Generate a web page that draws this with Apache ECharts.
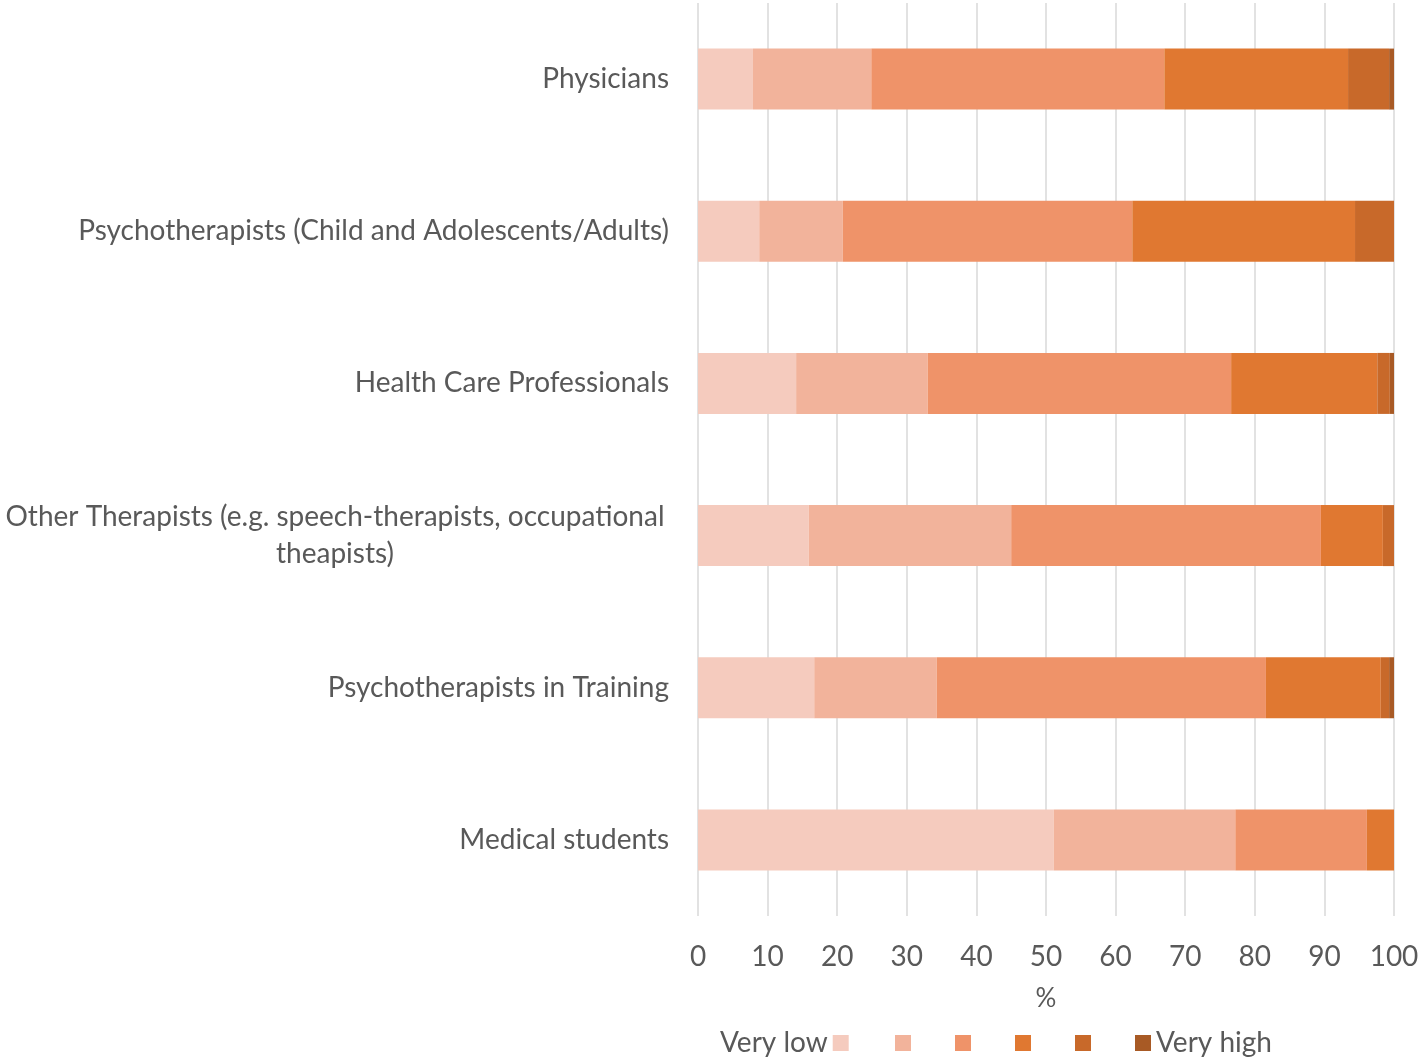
<!DOCTYPE html>
<html>
<head>
<meta charset="utf-8">
<script src="https://cdn.jsdelivr.net/npm/echarts@6/dist/echarts.min.js"></script>
<style>
  html, body { margin: 0; padding: 0; background: #fff; }
  #chart { width: 1423px; height: 1059px; }
</style>
</head>
<body>
<div id="chart"></div>
<script>
// categories listed bottom to top (category axis starts at the bottom)
const categories = [
  'Medical students',
  'Psychotherapists in Training',
  'Other Therapists (e.g. speech-therapists, occupational\ntheapists)',
  'Health Care Professionals',
  'Psychotherapists (Child and Adolescents/Adults)',
  'Physicians',
];

const levelNames = ['Very low', '2', '3', '4', '5', 'Very high'];
const levelColors = ['#F5CBBE', '#F2B39B', '#EF9369', '#E07831', '#C8692A', '#A85A25'];

// share (%) per level, same order as categories
const veryLow = [51.1, 16.7, 15.9, 14.1, 8.8, 7.9];
const level2 = [26.1, 17.6, 29.1, 18.9, 12.0, 17.0];
const level3 = [18.9, 47.3, 44.5, 43.6, 41.6, 42.1];
const level4 = [3.9, 16.5, 8.9, 21.0, 32.0, 26.4];
const level5 = [0, 1.2, 1.6, 1.8, 5.6, 5.9];
const veryHigh = [0, 0.7, 0, 0.6, 0, 0.7];

const xTicks = [0, 10, 20, 30, 40, 50, 60, 70, 80, 90, 100];

const levelData = [veryLow, level2, level3, level4, level5, veryHigh];
const textColor = '#595959';
const fontFamily = 'Lato, "Open Sans", sans-serif';
const fontSize = 28;

const chart = echarts.init(document.getElementById('chart'));

chart.setOption({
  animation: false,
  textStyle: { fontFamily: fontFamily, color: textColor },
  grid: { left: 698, right: 29, top: 3, bottom: 143, containLabel: false, outerBoundsMode: 'none' },
  xAxis: {
    type: 'value',
    min: xTicks[0],
    max: xTicks[xTicks.length - 1],
    interval: 10,
    name: '%',
    nameLocation: 'middle',
    nameGap: 70,
    nameTextStyle: { fontSize: 26, color: textColor, fontFamily: fontFamily },
    axisLine: { show: false },
    axisTick: { show: false },
    axisLabel: { fontSize: fontSize, color: textColor, margin: 27, fontFamily: fontFamily },
    splitLine: { show: true, lineStyle: { color: '#D9D9D9', width: 1.5 } },
  },
  yAxis: {
    type: 'category',
    data: categories,
    axisLine: { show: false },
    axisTick: { show: false },
    axisLabel: {
      fontSize: fontSize,
      color: textColor,
      margin: 29,
      fontFamily: fontFamily,
      lineHeight: 37,
      formatter: (value) => {
        if (value.indexOf('\n') < 0) return value;
        // wrapped label: lines centered on each other like the original
        return value.split('\n').map((line) => `{w|${line}}`).join('\n');
      },
      rich: {
        w: { width: 668, align: 'center', fontSize: fontSize, color: textColor, fontFamily: fontFamily, lineHeight: 37 },
      },
    },
  },
  legend: [
    {
      data: [levelNames[0]],
      left: 715,
      top: 1024,
      align: 'right',
      itemWidth: 16,
      itemHeight: 16,
      icon: 'rect',
      textStyle: { fontSize: fontSize, color: textColor, fontFamily: fontFamily },
    },
    {
      data: levelNames.slice(1),
      left: 890,
      top: 1024,
      itemGap: 44,
      itemWidth: 16,
      itemHeight: 16,
      icon: 'rect',
      formatter: (name) => (name === 'Very high' ? name : ''),
      textStyle: { fontSize: fontSize, color: textColor, fontFamily: fontFamily },
    },
  ],
  series: levelNames.map((name, i) => ({
    name: name,
    type: 'bar',
    stack: 'total',
    barWidth: 61,
    itemStyle: { color: levelColors[i] },
    data: levelData[i],
  })),
});
</script>
</body>
</html>
